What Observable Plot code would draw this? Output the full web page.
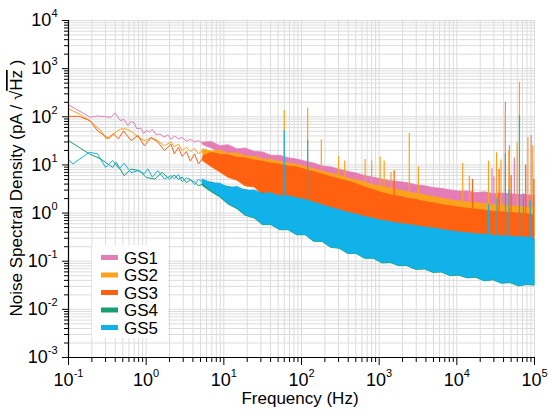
<!DOCTYPE html>
<html><head><meta charset="utf-8">
<script src="https://cdn.jsdelivr.net/npm/d3@7"></script>
<script src="https://cdn.jsdelivr.net/npm/@observablehq/plot@0.6"></script>
<style>
body{margin:0;background:#fff;}
#chart{position:relative;width:550px;height:414px;}
</style></head><body><div id="chart"></div>
<script>
// ---------- data ----------
const seriesNames = ["GS1", "GS2", "GS3", "GS4", "GS5"];
const seriesColors = ["#e47db5", "#fba31c", "#ff6110", "#16a070", "#11b1ea"];

const xDecades = [-1, 0, 1, 2, 3, 4, 5];
const yDecades = [-3, -2, -1, 0, 1, 2, 3, 4];

// low-frequency part (individual points)
const gs1LineF = [0.1,0.19,0.24,0.3,0.35,0.4,0.46,0.52,0.58,0.64,0.7,0.76,0.85,0.93,1.0,1.1,1.2,1.35,1.5,1.7,1.9,2.1,2.3,2.6,2.9,3.3,3.7,4.2,4.7,5.4];
const gs1LineV = [177,98,104,100,97,120,84,88,66,80,75,56,58,45,52,48,55,42,44,38,42,34,40,35,37,31,34,30,32,28];
const gs2LineF = [0.1,0.137,0.185,0.236,0.27,0.304,0.37,0.47,0.55,0.66,0.82,0.97,1.16,1.41,1.72,2.09,2.3,2.6,2.9,3.3,3.7,4.2,4.7,5.4];
const gs2LineV = [146,115,83,60,48,35,43,56,56,48,36,32,37,32,25,30,24,27,20,23,19,22,17,20];
const gs3LineF = [0.1,0.137,0.19,0.236,0.289,0.33,0.38,0.44,0.51,0.64,0.78,0.95,1.16,1.41,1.72,2.09,2.3,2.6,2.9,3.3,3.7,4.2,4.7,5.4];
const gs3LineV = [102,102,83,51,41,35,44,35,51,32,41,25,37,30,20,27,17,23,15,19,12,17,10.5,14];
const gs4LineF = [0.1,0.185,0.26,0.3,0.37,0.41,0.52,0.64,0.82,1.0,1.3,1.6,2.0,2.3,2.6,2.9,3.3,3.7,4.2,4.7,5.4];
const gs4LineV = [32,17,13.3,11.3,8.9,11.3,6,8.2,7.6,5.5,5.1,7,5.1,6.2,5.0,5.6,4.3,4.9,4.4,3.7,4.0];
const gs5LineF = [0.1,0.114,0.185,0.236,0.3,0.37,0.45,0.52,0.64,0.78,0.95,1.05,1.2,1.41,1.72,2.09,2.3,2.6,2.9,3.3,3.7,4.2,4.7,5.4];
const gs5LineV = [13,10.5,18.3,17,8.9,12.3,8.3,10.8,6.9,7.6,6.6,8.3,5.6,7.6,5.1,6,5.2,6.3,4.5,5.4,5.0,3.9,5.0,4.5];

// dense part: upper / lower envelope of the noise band
const bandF = [5.4,7,9,11.5,15,19,25,32,41,53,68,88,113,145,187,240,310,400,510,660,850,1100,1400,1800,2300,3000,3900,5000,6400,8300,10700,13800,17800,23000,29500,38000,49000,63000,81000,100000];
const gs1Hi = [29,30,24.5,25.7,21,22,18.6,18.2,15.5,15.5,13.8,12.9,11.7,10.7,9.3,8.9,7.9,7.2,6.6,5.9,5.4,5.0,4.6,4.4,4.2,3.8,3.6,3.3,3.2,2.95,2.8,2.8,2.6,2.7,2.5,2.55,2.45,2.4,2.35,2.3];
const gs1Lo = [26,22,18,16,13,12.5,11,10,9,8.5,7.5,7,6.3,5.8,5,4.7,4.2,3.8,3.4,3.1,2.8,2.6,2.4,2.2,2.1,1.9,1.8,1.65,1.6,1.5,1.4,1.4,1.3,1.35,1.25,1.27,1.2,1.2,1.17,1.15];
const gs2Hi = [21,19,20,17,17.4,15,14.8,12.9,12.6,11.5,10.7,10,9.1,8.1,7.2,6.6,5.9,5.2,4.8,4.3,3.8,3.5,3.2,2.95,2.75,2.5,2.35,2.15,2.0,1.85,1.74,1.66,1.62,1.55,1.48,1.45,1.38,1.35,1.29,1.26];
const gs2Lo = [16,11,8.5,6.5,6.0,4.6,4.6,3.1,3.3,2.4,2.5,1.8,1.9,1.4,1.45,1.15,1.2,0.95,0.98,0.78,0.8,0.68,0.7,0.65,0.62,0.6,0.56,0.53,0.5,0.48,0.46,0.44,0.42,0.42,0.4,0.39,0.37,0.36,0.34,0.33];
const gs3Hi = [15,17.8,16.2,15.8,14.1,13.8,12.3,11.7,10.7,10.2,9.3,8.9,7.9,7.1,6.3,5.6,5.0,4.5,4.0,3.4,3.0,2.6,2.35,2.2,2.0,1.88,1.7,1.6,1.48,1.38,1.3,1.23,1.18,1.13,1.07,1.04,1.0,0.98,0.94,0.91];
const gs3Lo = [12,9,7.0,5.4,4.7,3.6,3.4,2.35,2.4,1.8,1.86,1.38,1.38,1.05,1.1,0.87,0.91,0.71,0.74,0.59,0.6,0.51,0.54,0.5,0.48,0.45,0.43,0.41,0.39,0.37,0.355,0.34,0.32,0.32,0.3,0.295,0.28,0.27,0.26,0.25];
const gs4Hi = [4.4,4.3,3.8,3.5,3.2,3.0,2.7,2.55,2.3,2.2,2.05,1.95,1.75,1.6,1.38,1.22,1.08,0.97,0.87,0.79,0.71,0.65,0.61,0.56,0.54,0.5,0.47,0.45,0.42,0.4,0.37,0.36,0.34,0.33,0.32,0.31,0.3,0.29,0.29,0.28];
const gs4Lo = [3.6,2.7,2.1,1.5,1.2,0.88,0.77,0.56,0.56,0.44,0.44,0.345,0.345,0.253,0.25,0.19,0.181,0.141,0.141,0.112,0.112,0.09,0.092,0.079,0.079,0.066,0.067,0.057,0.058,0.049,0.05,0.044,0.045,0.038,0.04,0.034,0.035,0.030,0.032,0.031];
const gs5Hi = [5.0,4.1,4.1,3.3,3.5,2.9,2.95,2.5,2.57,2.24,2.24,2.04,1.86,1.66,1.45,1.29,1.15,1.02,0.93,0.83,0.76,0.69,0.65,0.6,0.575,0.54,0.5,0.48,0.45,0.42,0.4,0.38,0.365,0.355,0.34,0.33,0.325,0.315,0.31,0.3];
const gs5Lo = [4.0,2.9,2.2,1.6,1.25,0.92,0.8,0.58,0.575,0.45,0.45,0.355,0.355,0.26,0.257,0.195,0.186,0.145,0.145,0.115,0.115,0.093,0.095,0.081,0.081,0.068,0.069,0.059,0.06,0.05,0.052,0.045,0.047,0.039,0.041,0.035,0.036,0.031,0.033,0.032];

// narrow peaks (series, frequency, foot value, top value)
const spikeSeries = ["GS2","GS2","GS2","GS2","GS2","GS2","GS2","GS2","GS2","GS2","GS2","GS2","GS2","GS2","GS2","GS2","GS2","GS2","GS2","GS2","GS2","GS2","GS2",
  "GS1","GS1","GS1","GS1","GS1","GS1",
  "GS3","GS3","GS3","GS3","GS3","GS3",
  "GS5","GS5","GS5","GS5","GS5","GS5","GS5","GS5","GS5"];
const spikeF = [60,120,180,300,360,660,800,1030,1160,1420,2440,3200,11900,14500,25600,32500,37000,42200,46800,59800,64000,82200,95000,
  28400,30000,42200,47500,55000,90600,
  1560,15900,35000,50000,77000,98000,
  60,120,25600,33000,42200,47000,64000,72000,88000];
const spikeBase = [11,9,7.5,6,5.5,4.3,3.9,3.5,3.4,3.2,2.7,2.45,1.7,1.65,1.5,1.47,1.45,1.4,1.4,1.35,1.35,1.29,1.27,
  2.5,2.5,2.45,2.45,2.4,2.33,
  2.3,1.2,1.1,1.0,0.96,0.92,
  2,1.8,0.34,0.34,0.33,0.33,0.32,0.31,0.31];
const spikeTop = [135,150,33,15,12,13,12,14.5,12,7,45,9.2,10.7,5.8,12,18,12.6,115,20,29,521,37,25,
  8.3,5.6,200,25,14,41,
  7.6,5,8,6,10,5,
  51,32,1.5,2,17,3,106,2.5,1.8];

// ---------- build ----------
const lineF = [gs1LineF, gs2LineF, gs3LineF, gs4LineF, gs5LineF];
const lineV = [gs1LineV, gs2LineV, gs3LineV, gs4LineV, gs5LineV];
const bandHi = [gs1Hi, gs2Hi, gs3Hi, gs4Hi, gs5Hi];
const bandLo = [gs1Lo, gs2Lo, gs3Lo, gs4Lo, gs5Lo];

const xMajor = xDecades.map(e => 10 ** e);
const yMajor = yDecades.map(e => 10 ** e);
const xMinor = [], yMinor = [];
xDecades.slice(0, -1).forEach(e => { for (let m = 2; m <= 9; m++) xMinor.push(m * 10 ** e); });
yDecades.slice(0, -1).forEach(e => { for (let m = 2; m <= 9; m++) yMinor.push(m * 10 ** e); });
const xDomain = [xMajor[0], xMajor[xMajor.length - 1]];
const yDomain = [yMajor[0], yMajor[yMajor.length - 1]];

const layers = seriesNames.flatMap((name, k) => {
  const band = bandF.map((f, i) => ({f, hi: bandHi[k][i], lo: bandLo[k][i]}));
  const line = lineF[k].map((f, i) => ({f, v: lineV[k][i]}));
  const spikes = spikeF.map((f, i) => ({f, base: spikeBase[i], top: spikeTop[i], s: spikeSeries[i]})).filter(d => d.s === name);
  return [
    Plot.areaY(band, {x: "f", y1: "lo", y2: "hi", fill: seriesColors[k], stroke: seriesColors[k], strokeWidth: 0.8}),
    Plot.line(line, {x: "f", y: "v", stroke: seriesColors[k], strokeWidth: 1}),
    Plot.ruleX(spikes, {x: "f", y1: "base", y2: "top", stroke: seriesColors[k], strokeWidth: 1.2})
  ];
});

const gridColor = "#dcdcdc";
const svg = Plot.plot({
  width: 550, height: 414,
  marginLeft: 68, marginRight: 16, marginTop: 20, marginBottom: 57,
  x: {type: "log", domain: xDomain},
  y: {type: "log", domain: yDomain},
  style: {fontFamily: "'Liberation Sans', Arial, sans-serif", fontSize: "18px", color: "black", background: "white"},
  marks: [
    Plot.ruleX([...xMajor, ...xMinor], {stroke: gridColor, strokeWidth: 1}),
    Plot.ruleY([...yMajor, ...yMinor], {stroke: gridColor, strokeWidth: 1}),
    ...layers,
    Plot.axisX({ticks: xMinor, tickSize: 5, tickFormat: () => "", label: null, stroke: "black"}),
    Plot.axisX({ticks: xMajor, tickSize: 8, tickPadding: 8, tickFormat: d => String(Math.round(Math.log10(d))), label: null, stroke: "black"}),
    Plot.axisY({ticks: yMinor, tickSize: 4, tickFormat: () => "", label: null, stroke: "black"}),
    Plot.axisY({ticks: yMajor, tickSize: 6, tickPadding: 5, tickFormat: d => String(Math.round(Math.log10(d))), label: null, stroke: "black"}),
    Plot.ruleX([xDomain[0]], {stroke: "black", strokeWidth: 1.2}),
    Plot.ruleY([yDomain[0]], {stroke: "black", strokeWidth: 1.2})
  ]
});

// power-of-ten tick labels
d3.select(svg).selectAll('g[aria-label="x-axis tick label"] text, g[aria-label="y-axis tick label"] text').each(function () {
  const t = d3.select(this);
  const e = t.text().trim();
  if (e === "") return;
  t.text("");
  t.append("tspan").text("10");
  t.append("tspan").attr("dy", "-9").attr("font-size", "11px").text(e.replace("\u2212", "-"));
});

const S = d3.select(svg);
// axis titles
S.append("text").attr("x", 300).attr("y", 404).attr("text-anchor", "middle")
  .attr("font-size", "17px").attr("fill", "black").text("Frequency (Hz)");
const yt = S.append("text").attr("transform", "translate(22,188) rotate(-90)").attr("text-anchor", "middle")
  .attr("font-size", "17px").attr("fill", "black");
yt.append("tspan").text("Noise Spectral Density (pA / \u221A");
yt.append("tspan").attr("text-decoration", "overline").style("text-decoration", "overline").text("Hz");
yt.append("tspan").text(" )");

// legend
const lg = S.append("g");
lg.append("rect").attr("x", 92).attr("y", 245).attr("width", 76).attr("height", 93).attr("fill", "white");
seriesNames.forEach((name, k) => {
  const cy = 257.5 + k * 17.5;
  lg.append("line").attr("x1", 101).attr("x2", 118).attr("y1", cy).attr("y2", cy)
    .attr("stroke", seriesColors[k]).attr("stroke-width", 5);
  lg.append("text").attr("x", 124).attr("y", cy).attr("dy", "0.36em").attr("font-size", "17px")
    .attr("text-anchor", "start").attr("fill", "black").text(name);
});

document.getElementById("chart").appendChild(svg);
</script></body></html>
